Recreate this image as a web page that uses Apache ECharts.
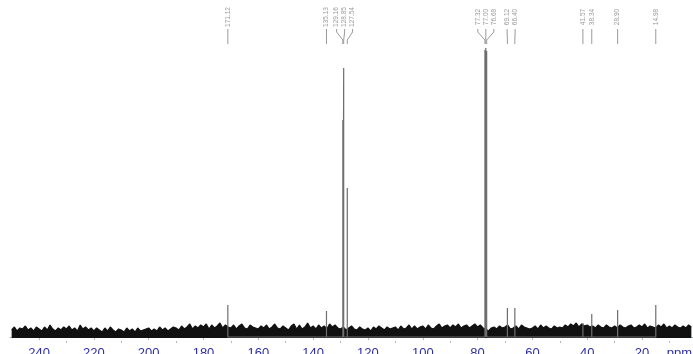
<!DOCTYPE html>
<html>
<head>
<meta charset="utf-8">
<script src="https://cdn.jsdelivr.net/npm/echarts@6/dist/echarts.min.js"></script>
<style>
  html, body { margin: 0; padding: 0; background: #ffffff; }
  #chart { width: 693px; height: 354px; }
</style>
</head>
<body>
<div id="chart"></div>
<script>
// 13C NMR spectrum (ppm scale, high field on the right)
const majorTicks = [240, 220, 200, 180, 160, 140, 120, 100, 80, 60, 40, 20];
const minorTicks = [230, 210, 190, 170, 150, 130, 110, 90, 70, 50, 30, 10];

// Picked peaks: chemical shift (ppm) and relative intensity
const peakShifts  = [171.12, 135.13, 129.16, 128.85, 127.54, 77.32, 77.00, 76.68, 69.12, 66.40, 41.57, 38.34, 28.90, 14.98];
const peakHeights = [32, 26, 217, 269, 149, 287, 289, 286, 29, 29, 14, 23, 27, 32];

// Baseline noise, one sample per ppm starting at 250 ppm
const noiseStart = 250;
const noiseStep = 1;
const noise = [
  7, 10, 6, 9, 8, 11, 7, 9, 6, 10,
  8, 6, 10, 7, 12, 8, 6, 9, 7, 10,
  8, 11, 7, 9, 6, 12, 8, 10, 7, 9,
  6, 9, 7, 5, 9, 6, 10, 7, 5, 8,
  7, 5, 9, 6, 8, 5, 9, 6, 7, 8,
  9, 6, 8, 6, 10, 7, 9, 6, 8, 10,
  9, 7, 11, 8, 10, 13, 8, 11, 9, 12,
  10, 13, 8, 12, 9, 11, 14, 9, 12, 10,
  9, 12, 8, 11, 13, 9, 8, 12, 10, 9,
  8, 11, 9, 12, 8, 10, 13, 9, 8, 11,
  9, 7, 11, 13, 8, 12, 8, 10, 14, 9,
  11, 8, 12, 9, 11, 8, 13, 10, 12, 9,
  8, 10, 7, 9, 11, 8, 7, 10, 8, 7,
  9, 6, 10, 8, 11, 9, 7, 10, 8, 9,
  10, 7, 11, 8, 9, 12, 8, 11, 8, 10,
  11, 8, 12, 9, 8, 11, 13, 9, 11, 12,
  9, 12, 10, 13, 9, 11, 12, 9, 11, 13,
  10, 12, 9, 8, 6, 9, 10, 8, 11, 9,
  10, 12, 8, 9, 11, 8, 12, 10, 9, 8,
  9, 11, 8, 12, 9, 11, 9, 8, 11, 9,
  10, 9, 12, 10, 13, 11, 14, 10, 13, 11,
  12, 10, 11, 9, 12, 10, 9, 12, 10, 9,
  11, 9, 12, 10, 9, 11, 12, 9, 10, 12,
  10, 13, 9, 11, 10, 9, 12, 10, 13, 9,
  11, 9, 12, 10, 9, 11, 9, 12, 10
];

const noiseData = noise.map((v, i) => [noiseStart - i * noiseStep, v]);

// Each peak is a vertical stick rising from the baseline
const peakData = [];
peakShifts.forEach((p, i) => {
  peakData.push([p, 0], [p, peakHeights[i]], [p, 0]);
});

// Spread peak labels so they keep a minimum spacing, centred on their peaks
function spreadLabels(xs, gap) {
  let clusters = xs.map((x, i) => ({ start: i, end: i, center: x }));
  let merged = true;
  while (merged) {
    merged = false;
    for (let k = 0; k < clusters.length - 1; k++) {
      const a = clusters[k], b = clusters[k + 1];
      const aRight = a.center + (a.end - a.start) * gap / 2;
      const bLeft = b.center - (b.end - b.start) * gap / 2;
      if (bLeft - aRight < gap) {
        const s = a.start, e = b.end;
        let sum = 0;
        for (let j = s; j <= e; j++) sum += xs[j];
        clusters.splice(k, 2, { start: s, end: e, center: sum / (e - s + 1) });
        merged = true;
        break;
      }
    }
  }
  const out = [];
  clusters.forEach(c => {
    const n = c.end - c.start + 1;
    for (let j = 0; j < n; j++) out[c.start + j] = c.center + (j - (n - 1) / 2) * gap;
  });
  return out;
}

const axisColor = '#b3b8c6';
const labelFont = 'Liberation Sans, Arial, sans-serif';
const xMin = 1.4, xMax = 250.6;

const chart = echarts.init(document.getElementById('chart'));
chart.setOption({
  animation: false,
  backgroundColor: '#ffffff',
  grid: { left: 10, right: 0, top: 0, bottom: 13, outerBoundsMode: 'none', containLabel: false },
  xAxis: [
    {
      type: 'value', min: xMin, max: xMax, inverse: true,
      axisLine: { lineStyle: { color: axisColor, width: 1 } },
      axisTick: { customValues: majorTicks, length: 3, lineStyle: { color: axisColor } },
      axisLabel: {
        customValues: majorTicks, margin: 6, color: '#2f2fa8',
        fontSize: 13, fontFamily: labelFont
      },
      splitLine: { show: false }
    },
    {
      type: 'value', min: xMin, max: xMax, inverse: true, position: 'bottom',
      axisLine: { show: false },
      axisTick: { customValues: minorTicks, length: 2, lineStyle: { color: axisColor } },
      axisLabel: { show: false },
      splitLine: { show: false }
    }
  ],
  yAxis: { type: 'value', min: -4, max: 337, show: false },
  graphic: [{
    type: 'text', right: 1, top: 347,
    style: { text: 'ppm', fill: '#2f2fa8', fontSize: 13, fontFamily: labelFont }
  }],
  series: [
    {
      type: 'line', name: 'noise', data: noiseData, symbol: 'none',
      lineStyle: { color: '#111111', width: 1.2 },
      areaStyle: { color: '#111111', opacity: 1, origin: -1 },
      z: 2
    },
    {
      type: 'line', name: 'peaks', data: peakData, symbol: 'none',
      lineStyle: { color: '#6e6e6e', width: 1.2 },
      z: 3
    },
    {
      type: 'custom', name: 'peak labels',
      data: peakShifts.map((p, i) => [p, peakHeights[i]]),
      encode: { x: 0, y: 1 },
      clip: false,
      z: 4,
      renderItem: function (params, api) {
        const xs = peakShifts.map(p => api.coord([p, 0])[0]);
        const lx = spreadLabels(xs, 8);
        const i = params.dataIndex;
        const px = xs[i];
        return {
          type: 'group',
          children: [
            {
              type: 'text', x: lx[i], y: 17, rotation: Math.PI / 2,
              style: {
                text: peakShifts[i].toFixed(2), fill: '#9a9a9a', fontSize: 6.5,
                fontFamily: labelFont, align: 'center', verticalAlign: 'middle'
              }
            },
            {
              type: 'polyline',
              shape: { points: [[lx[i], 29], [lx[i], 32], [px, 40], [px, 44]] },
              style: { stroke: '#9a9a9a', lineWidth: 1, fill: null }
            }
          ]
        };
      }
    }
  ]
});
</script>
</body>
</html>
